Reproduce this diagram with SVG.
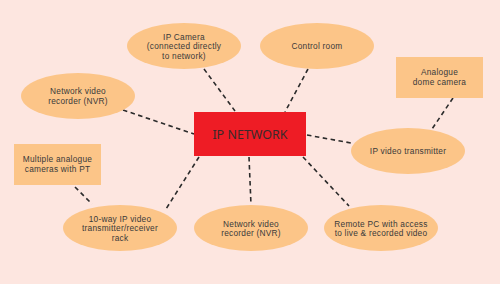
<svg xmlns="http://www.w3.org/2000/svg" width="500" height="284" viewBox="0 0 500 284">
<style>
.n{fill:#fcc588;stroke:none}
.t{font-family:"Liberation Sans",Arial,sans-serif;font-size:8.3px;letter-spacing:0.25px;fill:#3a3a3a;text-anchor:middle}
.c line{stroke:#2b2b2b;stroke-width:1.6;stroke-dasharray:4.5 3.5}
</style>
<rect width="500" height="284" fill="#fde6e0"/>
<g class="c" id="connectors">
<line x1="204" y1="69" x2="235" y2="111"/>
<line x1="308" y1="69" x2="285" y2="112"/>
<line x1="123" y1="110" x2="194" y2="134"/>
<line x1="307" y1="135" x2="351" y2="143"/>
<line x1="453" y1="98" x2="432" y2="129"/>
<line x1="199" y1="157" x2="166" y2="209"/>
<line x1="75" y1="187" x2="92" y2="204"/>
<line x1="249" y1="157" x2="251" y2="205"/>
<line x1="303" y1="157" x2="349" y2="206"/>
</g>
<g id="ipnetwork">
<rect x="194" y="112" width="112" height="44" fill="#ee1c25"/>
<text x="250" y="139" font-family="Noto Sans,sans-serif" font-size="12.5" fill="#3a2a2a" text-anchor="middle">IP NETWORK</text>
</g>
<g id="ipcamera">
<ellipse class="n" cx="184" cy="46" rx="57" ry="23"/>
<text class="t" x="184" y="39.5">IP Camera</text>
<text class="t" x="184" y="49.2">(connected directly</text>
<text class="t" x="184" y="58.9">to network)</text>
</g>
<g id="controlroom">
<ellipse class="n" cx="317" cy="46" rx="57" ry="23"/>
<text class="t" x="317" y="49">Control room</text>
</g>
<g id="nvr1">
<ellipse class="n" cx="78" cy="96" rx="57" ry="23"/>
<text class="t" x="78" y="94">Network video</text>
<text class="t" x="78" y="103.7">recorder (NVR)</text>
</g>
<g id="domecamera">
<rect class="n" x="396" y="57" width="87" height="41"/>
<text class="t" x="439.5" y="75">Analogue</text>
<text class="t" x="439.5" y="84.7">dome camera</text>
</g>
<g id="iptransmitter">
<ellipse class="n" cx="408" cy="151" rx="57" ry="23"/>
<text class="t" x="408" y="154">IP video transmitter</text>
</g>
<g id="multicams">
<rect class="n" x="14" y="144" width="87" height="41"/>
<text class="t" x="57.5" y="162">Multiple analogue</text>
<text class="t" x="57.5" y="171.7">cameras with PT</text>
</g>
<g id="rack">
<ellipse class="n" cx="120" cy="228" rx="57" ry="23"/>
<text class="t" x="120" y="221.5">10-way IP video</text>
<text class="t" x="120" y="231.2">transmitter/receiver</text>
<text class="t" x="120" y="240.9">rack</text>
</g>
<g id="nvr2">
<ellipse class="n" cx="251" cy="228" rx="57" ry="23"/>
<text class="t" x="251" y="226.5">Network video</text>
<text class="t" x="251" y="236.2">recorder (NVR)</text>
</g>
<g id="remotepc">
<ellipse class="n" cx="381" cy="228" rx="57" ry="23"/>
<text class="t" x="381" y="226.5">Remote PC with access</text>
<text class="t" x="381" y="236.2">to live &amp; recorded video</text>
</g>
</svg>
